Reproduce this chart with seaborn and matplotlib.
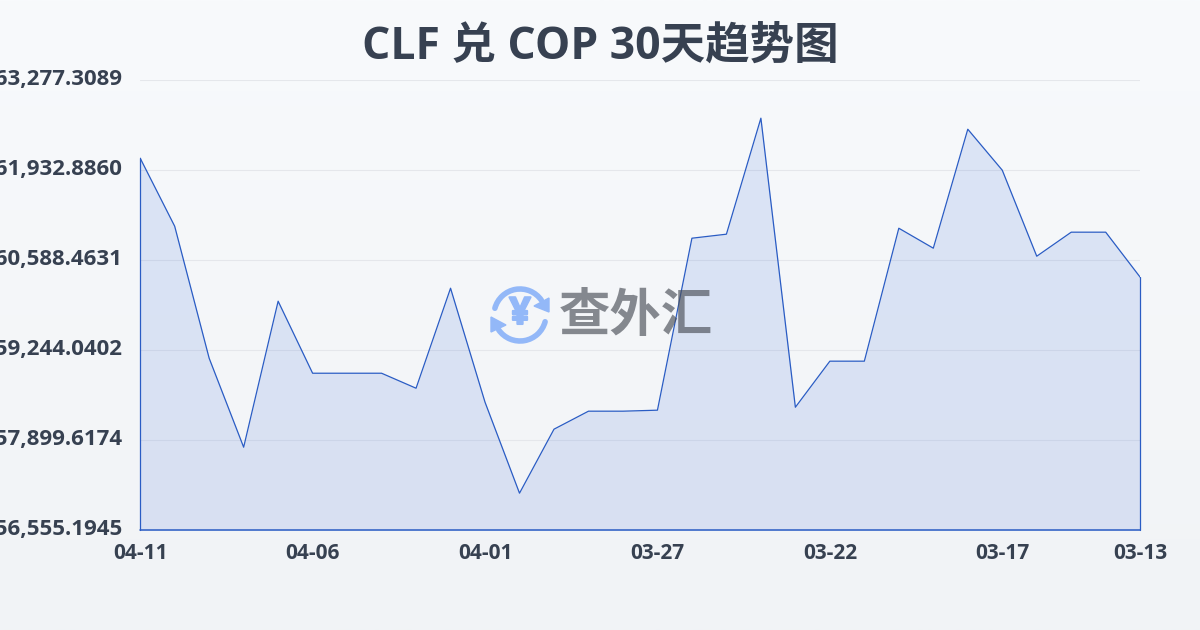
import numpy as np
import pandas as pd
import matplotlib
matplotlib.use('Agg')
import matplotlib.pyplot as plt
from matplotlib.patches import Arc, Polygon
from matplotlib.transforms import ScaledTranslation
import matplotlib.patheffects as pe
import seaborn as sns

sns.set_theme(style='white')
plt.rcParams['font.family'] = ['Open Sans', 'Noto Sans CJK SC', 'DejaVu Sans']

# Values, newest day first
dates = ['04-11', '04-10', '04-09', '04-08', '04-07', '04-06', '04-05', '04-04', '04-03', '04-02',
         '04-01', '03-31', '03-30', '03-29', '03-28', '03-27', '03-26', '03-25', '03-24', '03-23',
         '03-22', '03-21', '03-20', '03-19', '03-18', '03-17', '03-16', '03-15', '03-14', '03-13']
rates = [162112, 161096, 159124, 157795, 159976, 158900, 158900, 158900, 158676, 160170,
         158467, 157108, 158064, 158333, 158333, 158348, 160917, 160977, 162710, 158392,
         159080, 159080, 161066, 160768, 162545, 161933, 160648, 161007, 161007, 160334]
y_ticks = [156555.1945, 157899.6174, 159244.0402, 160588.4631, 161932.8860, 163277.3089]
x_tick_labels = ['04-11', '04-06', '04-01', '03-27', '03-22', '03-17', '03-13']
title = 'CLF 兑 COP 30天趋势图'

df = pd.DataFrame({'date': dates, 'rate': rates})
df['pos'] = range(len(df))

W, H = 1200, 630
fig = plt.figure(figsize=(W / 100, H / 100), dpi=100)

# page background, light vertical gradient
bg = fig.add_axes([0, 0, 1, 1], zorder=0)
bg.imshow(np.linspace(0, 1, 256).reshape(-1, 1), aspect='auto', extent=[0, W, H, 0],
          cmap=matplotlib.colors.LinearSegmentedColormap.from_list('bg', ['#f8fafc', '#f1f3f6']))
bg.set_xlim(0, W)
bg.set_ylim(H, 0)
bg.axis('off')

# plot area 140..1140 x 80..530 px
ax = fig.add_axes([140.2 / W, 1 - 530.2 / H, 1000 / W, 450 / H], zorder=1)
ax.patch.set_alpha(0)
sns.lineplot(data=df, x='pos', y='rate', ax=ax, color='#2a5cc4', linewidth=0.9, zorder=4)
ax.fill_between(df['pos'], df['rate'], y_ticks[0], color='#2a5fd8', alpha=0.13, linewidth=0, zorder=3)

ax.set_xlim(0, len(df) - 1)
ax.set_ylim(y_ticks[0], y_ticks[-1])
ax.set_xlabel('')
ax.set_ylabel('')
tick_pos = [dates.index(d) for d in x_tick_labels]
ax.set_xticks(tick_pos)
ax.set_xticklabels(x_tick_labels)
ax.set_yticks(y_ticks)
ax.set_yticklabels([f'{v:,.4f}' for v in y_ticks])
ax.grid(axis='y', color='#e5e7eb', linewidth=0.8, zorder=1)
ax.tick_params(axis='x', length=9, width=1, color='#e8eaee', pad=0, labelsize=15, labelcolor='#374151')
ax.tick_params(axis='y', length=0, pad=12.5, labelsize=16, labelcolor='#374151')
for lab in ax.get_xticklabels() + ax.get_yticklabels():
    lab.set_fontweight('bold')
# y labels sit a little above their grid lines
up = ScaledTranslation(0, 2 / 72, fig.dpi_scale_trans)
for lab in ax.get_yticklabels():
    lab.set_transform(lab.get_transform() + up)
for s in ax.spines.values():
    s.set_visible(False)
# closed outline of the area
ax.plot([0, 0], [y_ticks[0], rates[0]], color='#2a5cc4', lw=0.9, zorder=4, clip_on=False)
ax.plot([0, len(df) - 1], [y_ticks[0], y_ticks[0]], color='#2a5cc4', lw=1.1, zorder=4, clip_on=False)
ax.plot([len(df) - 1, len(df) - 1], [y_ticks[0], rates[-1]], color='#2a5cc4', lw=0.9, zorder=4, clip_on=False)

fig.text(600 / W, 1 - 47 / H, title, ha='center', va='center', fontsize=32,
         fontweight='bold', color='#374151', zorder=5)

# watermark
wm = fig.add_axes([0, 0, 1, 1], zorder=3)
wm.patch.set_alpha(0)
wm.set_xlim(0, W)
wm.set_ylim(H, 0)
wm.axis('off')
blue = '#93b8f8'
cx, cy, d = 520, 315, 52
wm.add_patch(Arc((cx, cy), d, d, theta1=195, theta2=325, color=blue, lw=4, capstyle='round'))
wm.add_patch(Arc((cx, cy), d, d, theta1=15, theta2=145, color=blue, lw=4, capstyle='round'))
wm.add_patch(Polygon([[549, 298], [549, 312], [534, 306]], color=blue))
wm.add_patch(Polygon([[491, 317], [491, 332], [506, 325]], color=blue))
wm.text(cx, cy - 1, '¥', ha='center', va='center', fontsize=27, fontweight='bold', color=blue,
        path_effects=[pe.withStroke(linewidth=1.5, foreground=blue)])
wm.text(636, 315, '查外汇', ha='center', va='center', fontsize=37, fontweight='bold',
        color='#4b4f58', alpha=0.66, family=['Noto Sans CJK SC', 'DejaVu Sans'])

fig.savefig('out.png', dpi=100)
